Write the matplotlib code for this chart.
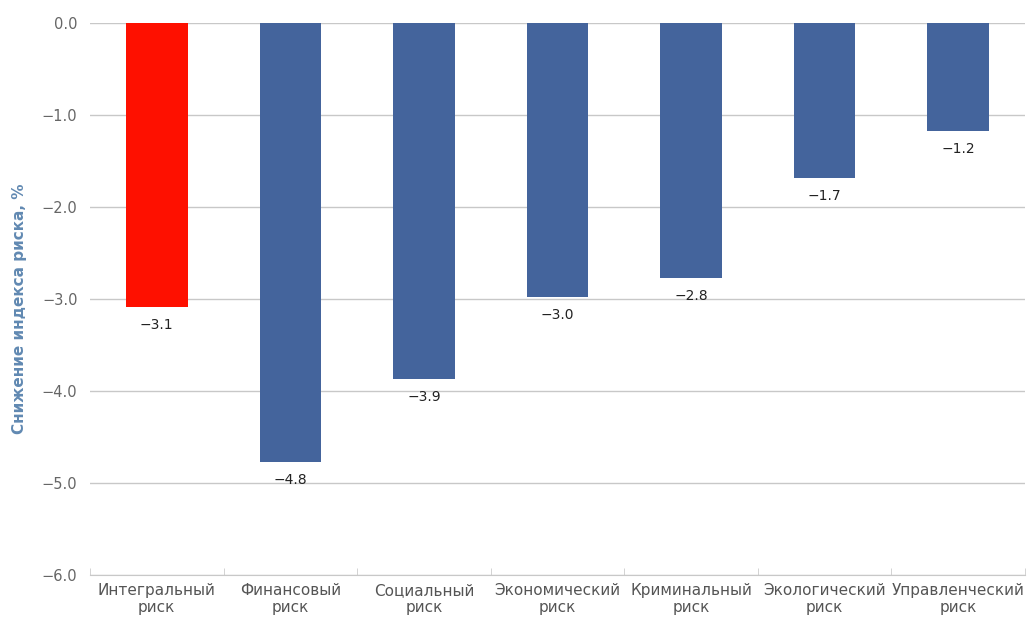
import matplotlib.pyplot as plt
import numpy as np

# ================================
# Datos
# ================================
categorias = ["Интегральный\nриск", "Финансовый\nриск", "Социальный\nриск",
              "Экономический\nриск", "Криминальный\nриск", "Экологический\nриск",
              "Управленческий\nриск"]
valores = [-3.09, -4.77, -3.87, -2.98, -2.77, -1.68, -1.17]
colores = ["#fe1000", "#44649c", "#44649c", "#44649c", "#44649c", "#44649c", "#44649c"]
y_ticks = [0.0, -1.0, -2.0, -3.0, -4.0, -5.0, -6.0]

plt.rcParams['font.family'] = ['DejaVu Sans']

fig = plt.figure(figsize=(10.3, 6.17), dpi=100)
ax = fig.add_axes([0.0874, 0.068, 0.9076, 0.8947])

x = np.arange(len(categorias))
ax.bar(x, valores, width=0.46, color=colores, zorder=3)

# etiquetas de valor debajo de cada barra
for xi, v in zip(x, valores):
    ax.text(xi, v - 0.12, f"{v:.1f}".replace("-", "−"), ha="center", va="top",
            fontsize=10, color="#222222", zorder=4)

ax.set_xlim(-0.5, len(categorias) - 0.5)
ax.set_ylim(-6.0, 0.0)
ax.set_yticks(y_ticks)
ax.set_yticklabels([f"{t:.1f}".replace("-", "−") for t in y_ticks],
                   fontsize=10.5, color="#666666")
ax.tick_params(axis="y", length=0, pad=9)

ax.set_xticks(x)
ax.set_xticklabels(categorias, fontsize=11, color="#555555", linespacing=1.15)
ax.tick_params(axis="x", length=0, pad=6)

# separadores de categorias en el eje
ax.set_xticks(np.arange(len(categorias) + 1) - 0.5, minor=True)
ax.tick_params(axis="x", which="minor", length=5, direction="in", color="#cccccc")

ax.yaxis.grid(True, color="#c8c8c8", linewidth=1, zorder=0)
for s in ["top", "right", "left"]:
    ax.spines[s].set_visible(False)
ax.spines["bottom"].set_color("#c8c8c8")

fig.text(0.019, 0.5, "Снижение индекса риска, %", rotation=90, ha="center",
         va="center", fontsize=11, fontweight="bold", color="#6189b2")

fig.savefig("out.png", dpi=100)
